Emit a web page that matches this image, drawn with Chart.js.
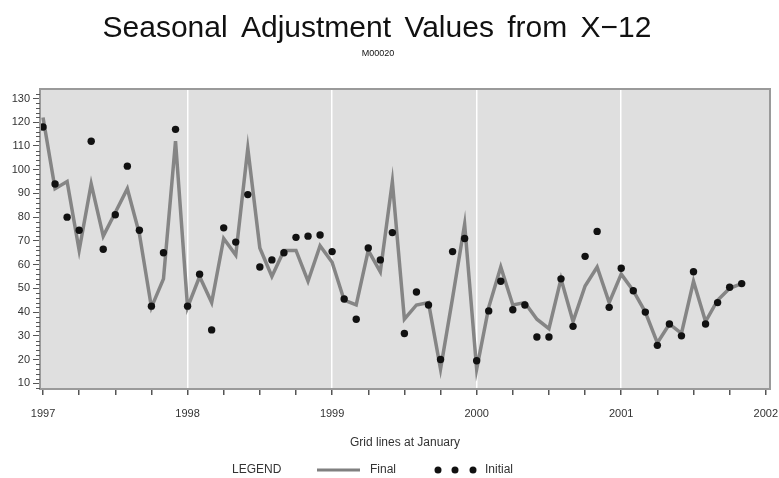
<!DOCTYPE html>
<html>
<head>
<meta charset="utf-8">
<script src="https://cdn.jsdelivr.net/npm/chart.js@4/dist/chart.umd.min.js"></script>
<style>
  body { margin: 0; background: #fff; }
  #wrap { width: 779px; height: 478px; }
</style>
</head>
<body>
<div id="wrap"><canvas id="x12Chart" width="779" height="478"></canvas></div>
<script>
// monthly values, Jan 1997 .. Nov 2001
const startYear = 1997;
const finalValues = [
  122, 92, 95, 66, 94, 72, 82, 92, 73, 42, 54, 112,
  42, 55, 44, 71, 64, 109, 67, 55, 66, 66, 53, 68,
  61, 45, 43, 66, 57, 95, 37, 43, 44, 16, 46, 77,
  16, 42, 59, 43, 44, 37, 33, 54, 36, 51, 59, 44,
  56, 49, 40, 27, 35, 31, 53, 36, 45, 50, 52
];
const initialValues = [
  118, 94, 80, 74.5, 112, 66.5, 81, 101.5, 74.5, 42.5, 65, 117,
  42.5, 56, 32.5, 75.5, 69.5, 89.5, 59, 62, 65, 71.5, 72, 72.5,
  65.5, 45.5, 37, 67, 62, 73.5, 31, 48.5, 43, 20, 65.5, 71,
  19.5, 40.5, 53, 41, 43, 29.5, 29.5, 54, 34, 63.5, 74, 42,
  58.5, 49, 40, 26, 35, 30, 57, 35, 44, 50.5, 52
];
const yearLabels = ['1997', '1998', '1999', '2000', '2001', '2002'];
const yTicks = [10, 20, 30, 40, 50, 60, 70, 80, 90, 100, 110, 120, 130];

const FONT = '"Liberation Sans", Arial, sans-serif';

const toPoints = arr => arr.map((v, i) => ({ x: i, y: v }));

const decor = {
  id: 'decor',
  beforeDraw(chart) {
    const { ctx, chartArea: a } = chart;
    ctx.save();
    ctx.fillStyle = '#dfdfdf';
    ctx.fillRect(a.left, a.top, a.right - a.left, a.bottom - a.top);
    ctx.restore();
  },
  afterDraw(chart) {
    const { ctx, chartArea: a } = chart;
    const ys = chart.scales.y;
    ctx.save();
    // frame
    ctx.strokeStyle = '#9a9a9a';
    ctx.lineWidth = 2;
    ctx.strokeRect(a.left, a.top, a.right - a.left, a.bottom - a.top);
    // minor y ticks
    ctx.strokeStyle = '#555';
    ctx.lineWidth = 1;
    for (let v = 8; v <= 132; v += 2) {
      if (v % 10 === 0) continue;
      const py = Math.round(ys.getPixelForValue(v)) + 0.5;
      ctx.beginPath();
      ctx.moveTo(a.left - 4, py);
      ctx.lineTo(a.left, py);
      ctx.stroke();
    }
    // titles
    ctx.fillStyle = '#111';
    ctx.textAlign = 'center';
    ctx.textBaseline = 'alphabetic';
    ctx.font = '30px ' + FONT;
    ctx.wordSpacing = '5px';
    ctx.fillText('Seasonal Adjustment Values from X\u221212', 377, 37);
    ctx.wordSpacing = '0px';
    ctx.font = '9px ' + FONT;
    ctx.textBaseline = 'middle';
    ctx.fillText('M00020', 378, 54);
    // x axis label
    ctx.fillStyle = '#333';
    ctx.font = '12px ' + FONT;
    ctx.fillText('Grid lines at January', (a.left + a.right) / 2, 443);
    // legend
    const ly = 470;
    ctx.textAlign = 'left';
    ctx.fillText('LEGEND', 232, ly);
    ctx.strokeStyle = '#808080';
    ctx.lineWidth = 3;
    ctx.beginPath();
    ctx.moveTo(317, ly);
    ctx.lineTo(360, ly);
    ctx.stroke();
    ctx.fillText('Final', 370, ly);
    ctx.fillStyle = '#111';
    [438, 455, 473].forEach(cx => {
      ctx.beginPath();
      ctx.arc(cx, ly, 3.5, 0, Math.PI * 2);
      ctx.fill();
    });
    ctx.fillStyle = '#333';
    ctx.fillText('Initial', 485, ly);
    ctx.restore();
  }
};

new Chart(document.getElementById('x12Chart'), {
  type: 'line',
  data: {
    datasets: [
      {
        label: 'Initial',
        data: toPoints(initialValues),
        showLine: false,
        pointRadius: 3.7,
        pointBackgroundColor: '#111',
        pointBorderWidth: 0
      },
      {
        label: 'Final',
        data: toPoints(finalValues),
        borderColor: '#858585',
        borderWidth: 3.5,
        pointRadius: 0,
        tension: 0
      }
    ]
  },
  options: {
    responsive: false,
    animation: false,
    layout: { padding: { top: 89, right: 9, bottom: 0, left: 0 } },
    plugins: {
      legend: { display: false },
      title: { display: false },
      tooltip: { enabled: false }
    },
    scales: {
      x: {
        type: 'linear',
        min: -0.25,
        max: 60.35,
        afterFit: s => {
          s.height = 89;
          s.paddingLeft = 0;
          s.paddingRight = 0;
        },
        afterBuildTicks: s => {
          const t = [];
          for (let m = 0; m <= 60; m += 3) t.push({ value: m });
          s.ticks = t;
        },
        border: { display: false },
        grid: {
          color: c => (c.tick && c.tick.value % 12 === 0 && c.tick.value > 0 && c.tick.value < 60) ? '#ffffff' : 'rgba(0,0,0,0)',
          lineWidth: 1.5,
          tickColor: '#555',
          tickLength: 6
        },
        ticks: {
          autoSkip: false,
          maxRotation: 0,
          padding: 12,
          color: '#333',
          font: { family: FONT, size: 11 },
          callback: v => (v % 12 === 0 ? yearLabels[v / 12] : '')
        }
      },
      y: {
        min: 7.6,
        max: 134,
        afterFit: s => {
          s.width = 40;
          s.paddingTop = 0;
          s.paddingBottom = 0;
        },
        afterBuildTicks: s => { s.ticks = yTicks.map(v => ({ value: v })); },
        border: { display: false },
        grid: {
          drawOnChartArea: false,
          tickColor: '#555',
          tickLength: 7
        },
        ticks: {
          padding: 3,
          color: '#333',
          font: { family: FONT, size: 11 }
        }
      }
    }
  },
  plugins: [decor]
});
</script>
</body>
</html>
